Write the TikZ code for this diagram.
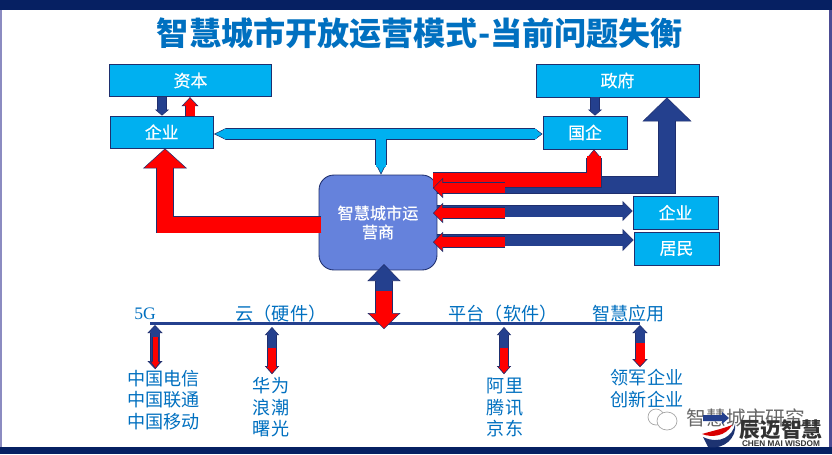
\documentclass[tikz,border=0pt]{standalone}
\usepackage{fontspec}
\setmainfont{Noto Sans CJK SC}
\newfontfamily\latinfont{Liberation Serif}
\newfontfamily\logofont{Liberation Sans}
\newfontfamily\boxfont[FakeBold=0.4]{Noto Sans CJK SC}
\usetikzlibrary{arrows.meta,calc}
\definecolor{navy}{HTML}{24408E}
\definecolor{edgeblue}{HTML}{1F2F6E}
\definecolor{boxblue}{HTML}{00B0F0}
\definecolor{textblue}{HTML}{0070C0}
\definecolor{hubblue}{HTML}{6582DC}
\definecolor{bandblue}{HTML}{062062}

\tikzset{
  box/.style={draw=edgeblue,fill=boxblue,line width=0.5pt,inner sep=0pt,text=white,font=\boxfont\fontsize{9.6}{11}\selectfont},
  lab/.style={text=textblue,inner sep=0pt,align=center,font=\fontsize{10.3}{12.2}\selectfont},
  % block arrow: colour, shaft, tip length, tip width
  block/.style n args={4}{draw=edgeblue,line width=0.3pt,double=#1,double distance=#2,
    -{Triangle[length=#3,width=#4,fill=#1,line width=0.3pt]},
    postaction={draw=#1,double=#1,line width=0pt,double distance=#2,-,shorten >=#3-0.04cm}},
  blocktwin/.style n args={4}{draw=edgeblue,line width=0.3pt,double=#1,double distance=#2,
    {Triangle[length=#3,width=#4,fill=#1,line width=0.3pt]}-{Triangle[length=#3,width=#4,fill=#1,line width=0.3pt]},
    postaction={draw=#1,double=#1,line width=0pt,double distance=#2,-,shorten >=#3-0.04cm,shorten <=#3-0.04cm}},
}

\begin{document}
\begin{tikzpicture}[x=0.02cm,y=-0.02cm]
  \useasboundingbox (0,0) rectangle (832,454);
  % frame of the slide
  \fill[bandblue] (0,0) rectangle (832,10);
  \fill[bandblue] (0,447) rectangle (832,454);
  \fill[white] (2,10) rectangle (829,447);
  \fill[blue!30!gray!70] (0,10) rectangle (2,447);
  \fill[black!30!blue!40!gray] (829,10) rectangle (832,447);

  \node[text=textblue,inner sep=0pt,font=\fontsize{18.28}{20}\selectfont\bfseries] (title) at (420,33) {智慧城市开放运营模式-当前问题失衡};

  % boxes
  \node[box,minimum width=3.23cm,minimum height=0.65cm] (capital) at (190.5,80.5) {资本};
  \node[box,minimum width=2.07cm,minimum height=0.64cm] (firmA) at (161.7,132) {企业};
  \node[box,minimum width=3.26cm,minimum height=0.66cm] (gov) at (617.5,80.5) {政府};
  \node[box,minimum width=1.68cm,minimum height=0.66cm] (soe) at (585,132.5) {国企};
  \node[box,minimum width=1.70cm,minimum height=0.66cm] (firmB) at (675.5,212.5) {企业};
  \node[box,minimum width=1.70cm,minimum height=0.66cm] (people) at (676.5,248.5) {居民};
  \node[draw=edgeblue,fill=hubblue,line width=0.5pt,rounded corners=0.3cm,minimum width=2.36cm,minimum height=1.9cm,inner sep=0pt,text=white,align=center,font=\boxfont\fontsize{9.2}{10.8}\selectfont] (hub) at (378,222.5) {智慧城市运\\营商};

  % labels
  \node[lab,font=\latinfont\fontsize{10}{12}\selectfont] (fiveG) at (145,314) {5G};
  \node[lab] (cloud) at (281,314) {云（硬件）};
  \node[lab] (platform) at (503,314) {平台（软件）};
  \node[lab] (apps) at (628.5,314) {智慧应用};
  \node[lab,anchor=north] (telcos) at (163.5,370) {中国电信\\中国联通\\中国移动};
  \node[lab,anchor=north] (hardware) at (271,377) {华为\\浪潮\\曙光};
  \node[lab,anchor=north] (software) at (505,378) {阿里\\腾讯\\京东};
  \node[lab,anchor=north] (leaders) at (647,369) {领军企业\\创新企业};

  \coordinate (lineL) at (150,323);
  \coordinate (lineR) at (640,323);
  \draw[navy,line width=1.7pt] (lineL) -- (lineR);

  % cyan link
  \coordinate (tee) at (381,134);
  \draw[block={boxblue}{0.2cm}{0.2cm}{0.2cm}] (tee) -- (tee |- hub.north);
  \draw[draw=edgeblue,line width=0.3pt,double=boxblue,double distance=0.2cm,{Triangle[length=0.24cm,width=0.23cm,fill=boxblue,line width=0.3pt]}-{Triangle[length=0.16cm,width=0.23cm,fill=boxblue,line width=0.3pt]},postaction={draw=boxblue,double=boxblue,line width=0pt,double distance=0.2cm,-,shorten <=0.2cm,shorten >=0.12cm}] (firmA.east |- tee) -- (soe.west |- tee);
  \fill[boxblue] (376.2,136) rectangle (385.8,142);

  % top small arrows
  \draw[block={navy}{0.16cm}{0.12cm}{0.28cm}] (capital.south -| 162,0) -- (firmA.north -| 162,0);
  \draw[block={red}{0.18cm}{0.18cm}{0.34cm}] (firmA.north -| 190,0) -- (capital.south -| 190,0);
  \draw[block={navy}{0.16cm}{0.12cm}{0.28cm}] (gov.south -| 595,0) -- (soe.north -| 595,0);

  % big arrows out of the hub
  \draw[block={red}{0.32cm}{0.4cm}{0.88cm}] (321,224.5) -| (firmA.south -| 165,0);
  \draw[block={navy}{0.33cm}{0.48cm}{0.98cm}] (hub.east |- 0,185) -| (gov.south -| 667,0);
  \draw[block={red}{0.28cm}{0.18cm}{0.3cm}] (433,180) -| (soe.south -| 594,0);

  % side arrows
  \draw[block={navy}{0.22cm}{0.2cm}{0.4cm}] (hub.east |- 0,211) -- (firmB.west |- 0,211);
  \draw[block={navy}{0.22cm}{0.22cm}{0.44cm}] (hub.east |- 0,240) -- (people.west |- 0,240);
  \foreach \y in {188,213,242}
    \draw[block={red}{0.2cm}{0.2cm}{0.4cm}] (505,\y) -- (433,\y);

  % hub to line
  \coordinate (hubfoot) at (384,329);
  \coordinate (hubtop) at (384,264);
  \draw[block={navy}{0.32cm}{0.34cm}{0.66cm}] (384,291) -- (hubtop);
  \draw[block={red}{0.32cm}{0.32cm}{0.66cm}] (384,291) -- (hubfoot);

  % small double arrows under the line
  \draw[blocktwin={navy}{0.18cm}{0.16cm}{0.3cm}] (155,325) -- (155,369);
  \draw[block={red}{0.1cm}{0.16cm}{0.22cm}] (155.5,337) -- (155.5,369);
  \draw[blocktwin={navy}{0.16cm}{0.16cm}{0.28cm}] (272,327) -- (272,374);
  \draw[block={red}{0.16cm}{0.16cm}{0.28cm}] (272,348) -- (272,374);
  \draw[blocktwin={navy}{0.16cm}{0.16cm}{0.28cm}] (504,327) -- (504,374);
  \draw[block={red}{0.16cm}{0.16cm}{0.28cm}] (504,348) -- (504,374);
  \draw[blocktwin={navy}{0.18cm}{0.16cm}{0.3cm}] (640,325) -- (640,367);
  \draw[block={red}{0.18cm}{0.16cm}{0.3cm}] (640,343) -- (640,367);

  % watermark
  \draw[black!35,line width=0.4pt,fill=white] (656,417) ellipse (8 and 8);
  \draw[black!35,line width=0.4pt,fill=white] (667,421) ellipse (10 and 9);
  \node[text=black!60,inner sep=0pt,font=\fontsize{11.2}{13}\selectfont] (wmark) at (746,418) {智慧城市研究};
  \fill[navy] (703,415) -- (722,415) -- (722,412) -- (729,418) -- (722,424) -- (722,421) -- (703,421) -- cycle;
  \fill[navy!80!black] (703,437) .. controls (720,445) and (733,436) .. (735,424) .. controls (737,437) and (725,450) .. (708,447) -- cycle;
  \fill[red!85!black] (702,434) .. controls (712,431) and (722,429) .. (732,425) .. controls (726,436) and (712,438) .. (702,434) -- cycle;
  \node[text=black!80,inner sep=0pt,font=\fontsize{11.8}{13}\selectfont\bfseries] (logo) at (781,430) {辰迈智慧};
  \node[text=black!80,inner sep=0pt,font=\logofont\fontsize{4.7}{5}\selectfont\bfseries] (logoen) at (781,443.5) {CHEN MAI WISDOM};
\end{tikzpicture}
\end{document}
